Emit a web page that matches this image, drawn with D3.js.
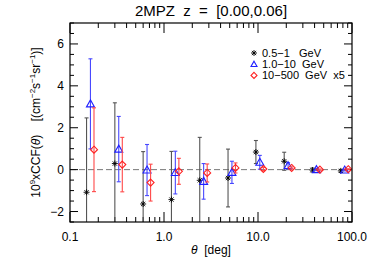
<!DOCTYPE html>
<html>
<head>
<meta charset="utf-8">
<script src="https://cdn.jsdelivr.net/npm/d3@7"></script>
<style>
  body { margin: 0; background: #fff; }
  text { font-family: "Liberation Sans", Arial, Helvetica, sans-serif; fill: #000; white-space: pre; }
</style>
</head>
<body>
<div id="chart"></div>
<script>
// angular bins (deg) and the three energy bands
const theta = [0.15, 0.30, 0.60, 1.2, 2.4, 4.8, 9.5, 19, 38, 76];
const lowVal = [-1.08, 0.29, -1.64, -1.43, -0.51, -0.40, 0.84, 0.40, -0.02, -0.06];
const lowErr = [3.55, 2.9, 2.5, 2.3, 2.05, 1.38, 0.55, 0.43, 0.10, 0.07];
const midVal = [3.14, 0.98, -0.02, -0.14, -0.56, -0.13, 0.35, 0.19, 0.00, -0.02];
const midErr = [2.15, 1.56, 1.22, 1.02, 0.85, 0.53, 0.33, 0.14, 0.05, 0.04];
const hiVal = [0.95, 0.24, -0.62, -0.08, -0.16, 0.08, 0.03, 0.08, 0.00, 0.02];
const hiErr = [2.0, 1.3, 0.88, 0.62, 0.43, 0.24, 0.08, 0.05, 0.03, 0.02];

const xTicks = [0.1, 1, 10, 100];
const xTickLabels = ["0.1", "1.0", "10.0", "100.0"];
const yTicks = [-2, 0, 2, 4, 6];
const legendLabels = ["0.5\u22121   GeV", "1.0\u221210  GeV", "10\u2212500  GeV  x5"];

const width = 374, height = 267;
const margin = {left: 70, right: 22, top: 23, bottom: 45};
const x = d3.scaleLog().domain([0.1, 100]).range([margin.left, width - margin.right]);
const y = d3.scaleLinear().domain([-2.5, 7]).range([height - margin.bottom, margin.top]);

const svg = d3.select("#chart").append("svg")
    .attr("width", width)
    .attr("height", height);

svg.append("defs").append("clipPath").attr("id", "clip")
  .append("rect")
    .attr("x", margin.left).attr("y", margin.top)
    .attr("width", width - margin.left - margin.right)
    .attr("height", height - margin.top - margin.bottom);

// title
svg.append("text")
    .attr("x", (margin.left + width - margin.right) / 2)
    .attr("y", 16)
    .attr("text-anchor", "middle")
    .attr("font-size", 15)
    .text("2MPZ  z  =  [0.00,0.06]");

// zero line
svg.append("line")
    .attr("x1", x(0.1)).attr("x2", x(100))
    .attr("y1", y(0)).attr("y2", y(0))
    .attr("stroke", "#777")
    .attr("stroke-dasharray", "6,3");

// ticks
const minorX = [];
[0.1, 1, 10].forEach(d => { for (let k = 2; k <= 9; k++) minorX.push(d * k); });
const minorY = d3.range(-2.5, 7.01, 0.5).filter(v => !yTicks.includes(v));

const axes = svg.append("g").attr("stroke", "#000").attr("stroke-width", 1);
const yb = y(-2.5), yt = y(7), xl = x(0.1), xr = x(100);
xTicks.forEach(d => {
  axes.append("line").attr("x1", x(d)).attr("x2", x(d)).attr("y1", yb).attr("y2", yb - 10);
  axes.append("line").attr("x1", x(d)).attr("x2", x(d)).attr("y1", yt).attr("y2", yt + 10);
});
minorX.forEach(d => {
  axes.append("line").attr("x1", x(d)).attr("x2", x(d)).attr("y1", yb).attr("y2", yb - 5);
  axes.append("line").attr("x1", x(d)).attr("x2", x(d)).attr("y1", yt).attr("y2", yt + 5);
});
yTicks.forEach(d => {
  axes.append("line").attr("x1", xl).attr("x2", xl + 8).attr("y1", y(d)).attr("y2", y(d));
  axes.append("line").attr("x1", xr).attr("x2", xr - 8).attr("y1", y(d)).attr("y2", y(d));
});
minorY.forEach(d => {
  axes.append("line").attr("x1", xl).attr("x2", xl + 4).attr("y1", y(d)).attr("y2", y(d));
  axes.append("line").attr("x1", xr).attr("x2", xr - 4).attr("y1", y(d)).attr("y2", y(d));
});

// tick labels
svg.selectAll(".xl").data(xTicks).enter().append("text")
    .attr("x", d => x(d)).attr("y", yb + 19)
    .attr("text-anchor", "middle").attr("font-size", 12)
    .text((d, i) => xTickLabels[i]);
svg.selectAll(".yl").data(yTicks).enter().append("text")
    .attr("x", xl - 6).attr("y", d => y(d) + 4.5)
    .attr("text-anchor", "end").attr("font-size", 12)
    .text(d => d < 0 ? "\u2212" + Math.abs(d) : d);

// axis titles
svg.append("text")
    .attr("x", (xl + xr) / 2).attr("y", 254)
    .attr("text-anchor", "middle").attr("font-size", 12)
    .html('<tspan font-style="italic">\u03b8</tspan>  [deg]');

const yl = svg.append("text")
    .attr("transform", `translate(40,${(yb + yt) / 2}) rotate(-90)`)
    .attr("text-anchor", "middle").attr("font-size", 12);
yl.append("tspan").text("10");
yl.append("tspan").attr("dy", -5).attr("font-size", 8).text("9");
yl.append("tspan").attr("dy", 5).text("xCCF(");
yl.append("tspan").attr("font-style", "italic").text("\u03b8");
yl.append("tspan").text(")    [(cm");
yl.append("tspan").attr("dy", -5).attr("font-size", 8).text("\u22122");
yl.append("tspan").attr("dy", 5).text("s");
yl.append("tspan").attr("dy", -5).attr("font-size", 8).text("\u22121");
yl.append("tspan").attr("dy", 5).text("sr");
yl.append("tspan").attr("dy", -5).attr("font-size", 8).text("\u22121");
yl.append("tspan").attr("dy", 5).text(")]");

// markers
function asterisk(g, cx, cy, color, r) {
  [0, 45, 90, 135].forEach(a => {
    const rad = a * Math.PI / 180;
    g.append("line")
      .attr("x1", cx - r * Math.cos(rad)).attr("y1", cy - r * Math.sin(rad))
      .attr("x2", cx + r * Math.cos(rad)).attr("y2", cy + r * Math.sin(rad))
      .attr("stroke", color).attr("stroke-width", 0.9);
  });
}
function triangle(g, cx, cy, color, r) {
  g.append("path")
    .attr("d", `M${cx},${cy - r}L${cx + r},${cy + r * 0.75}L${cx - r},${cy + r * 0.75}Z`)
    .attr("fill", "none").attr("stroke", color).attr("stroke-width", 1.1);
}
function diamond(g, cx, cy, color, r) {
  g.append("path")
    .attr("d", `M${cx},${cy - r}L${cx + r},${cy}L${cx},${cy + r}L${cx - r},${cy}Z`)
    .attr("fill", "none").attr("stroke", color).attr("stroke-width", 1.1);
}

const series = [
  {val: lowVal, err: lowErr, shift: 1.0, color: "#000", bar: "#555", mark: asterisk, r: 3},
  {val: midVal, err: midErr, shift: 1.1, color: "#2020ff", bar: "#4848ff", mark: triangle, r: 4},
  {val: hiVal, err: hiErr, shift: 1.2, color: "#ff2020", bar: "#ff4848", mark: diamond, r: 3.5}
];

const plot = svg.append("g").attr("clip-path", "url(#clip)");
series.forEach(s => {
  const g = plot.append("g");
  theta.forEach((t, i) => {
    const cx = x(t * s.shift);
    const lo = y(s.val[i] - s.err[i]), hi = y(s.val[i] + s.err[i]);
    g.append("line").attr("x1", cx).attr("x2", cx).attr("y1", lo).attr("y2", hi)
      .attr("stroke", s.bar).attr("stroke-width", 1.1);
    [lo, hi].forEach(yy => g.append("line")
      .attr("x1", cx - 2).attr("x2", cx + 2).attr("y1", yy).attr("y2", yy)
      .attr("stroke", s.bar).attr("stroke-width", 1.1));
    s.mark(g, cx, y(s.val[i]), s.color, s.r);
  });
});

// frame
svg.append("rect")
    .attr("x", xl).attr("y", yt)
    .attr("width", xr - xl).attr("height", yb - yt)
    .attr("fill", "none").attr("stroke", "#000").attr("stroke-width", 1.2);

// legend
const leg = svg.append("g");
series.forEach((s, i) => {
  const ly = 53 + i * 11.2;
  s.mark(leg, 254, ly, s.color, 3);
  leg.append("text").attr("x", 262).attr("y", ly + 4).attr("font-size", 11)
    .text(legendLabels[i]);
});
</script>
</body>
</html>
